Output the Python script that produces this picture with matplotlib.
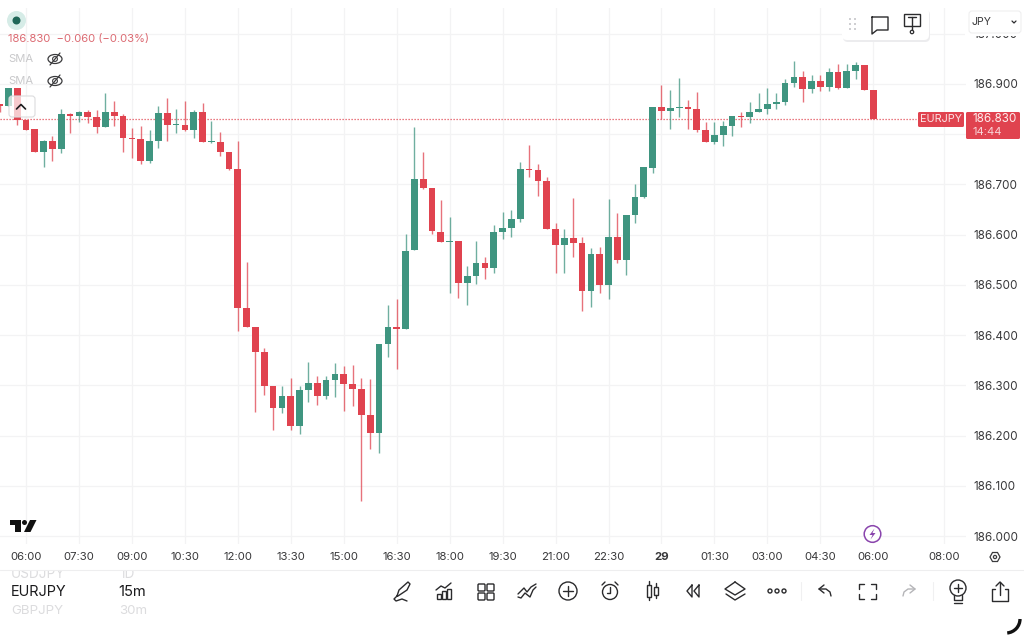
#!/usr/bin/env python3
"""EURJPY 15m candlestick screenshot, redrawn with matplotlib"""

import matplotlib
matplotlib.use('Agg')
import matplotlib.pyplot as plt
from matplotlib.patches import Circle, Ellipse, FancyBboxPatch, Polygon, Rectangle, Arc

plt.rcParams['font.family'] = ['Inter', 'DejaVu Sans']

# bar index, 0 is the 06:00 bar of the first day
bar_index = list(range(-3, 97))

opens = [186.860, 186.856, 186.892, 186.828, 186.810, 186.765, 186.786, 186.770, 186.840, 186.836,
         186.844, 186.834, 186.814, 186.844, 186.836, 186.792, 186.790, 186.747, 186.786, 186.842,
         186.818, 186.818, 186.808, 186.844, 186.784, 186.784, 186.765, 186.731, 186.454, 186.416,
         186.367, 186.299, 186.255, 186.279, 186.219, 186.291, 186.305, 186.279, 186.311, 186.323,
         186.303, 186.293, 186.241, 186.205, 186.383, 186.416, 186.412, 186.570, 186.711, 186.693,
         186.605, 186.585, 186.587, 186.504, 186.518, 186.544, 186.534, 186.605, 186.613, 186.631,
         186.731, 186.729, 186.707, 186.611, 186.579, 186.593, 186.583, 186.488, 186.561, 186.500,
         186.595, 186.550, 186.639, 186.675, 186.733, 186.854, 186.846, 186.852, 186.854, 186.850,
         186.808, 186.784, 186.798, 186.816, 186.836, 186.834, 186.844, 186.850, 186.860, 186.864,
         186.902, 186.914, 186.890, 186.906, 186.894, 186.924, 186.892, 186.926, 186.938, 186.888]
highs = [186.860, 186.892, 186.892, 186.828, 186.810, 186.789, 186.796, 186.851, 186.843, 186.846,
         186.849, 186.848, 186.881, 186.866, 186.840, 186.812, 186.817, 186.808, 186.855, 186.872,
         186.850, 186.866, 186.848, 186.862, 186.826, 186.804, 186.765, 186.786, 186.546, 186.416,
         186.375, 186.299, 186.299, 186.315, 186.299, 186.347, 186.319, 186.319, 186.345, 186.339,
         186.341, 186.315, 186.313, 186.383, 186.460, 186.472, 186.601, 186.814, 186.765, 186.693,
         186.669, 186.635, 186.587, 186.538, 186.587, 186.556, 186.619, 186.645, 186.649, 186.745,
         186.778, 186.741, 186.715, 186.623, 186.611, 186.673, 186.595, 186.573, 186.575, 186.671,
         186.643, 186.639, 186.701, 186.735, 186.854, 186.898, 186.888, 186.912, 186.868, 186.884,
         186.824, 186.824, 186.826, 186.836, 186.844, 186.864, 186.882, 186.892, 186.882, 186.910,
         186.946, 186.926, 186.918, 186.918, 186.932, 186.940, 186.940, 186.944, 186.938, 186.888]
lows = [186.844, 186.856, 186.818, 186.808, 186.765, 186.735, 186.747, 186.763, 186.802, 186.824,
        186.822, 186.802, 186.814, 186.816, 186.765, 186.753, 186.741, 186.743, 186.772, 186.786,
        186.802, 186.806, 186.792, 186.784, 186.782, 186.757, 186.729, 186.408, 186.416, 186.247,
        186.281, 186.211, 186.245, 186.211, 186.203, 186.267, 186.261, 186.273, 186.277, 186.249,
        186.259, 186.070, 186.173, 186.165, 186.357, 186.333, 186.412, 186.570, 186.691, 186.601,
        186.585, 186.484, 186.474, 186.460, 186.502, 186.512, 186.524, 186.591, 186.595, 186.625,
        186.715, 186.677, 186.611, 186.524, 186.524, 186.556, 186.448, 186.456, 186.484, 186.472,
        186.544, 186.520, 186.623, 186.673, 186.723, 186.830, 186.810, 186.834, 186.810, 186.804,
        186.784, 186.780, 186.776, 186.796, 186.814, 186.822, 186.844, 186.840, 186.850, 186.858,
        186.894, 186.864, 186.882, 186.886, 186.886, 186.890, 186.892, 186.910, 186.888, 186.830]
closes = [186.856, 186.892, 186.828, 186.808, 186.765, 186.786, 186.770, 186.840, 186.836, 186.844,
          186.834, 186.814, 186.844, 186.836, 186.792, 186.790, 186.747, 186.786, 186.842, 186.818,
          186.820, 186.808, 186.844, 186.784, 186.786, 186.765, 186.731, 186.454, 186.416, 186.367,
          186.299, 186.255, 186.279, 186.219, 186.291, 186.305, 186.279, 186.311, 186.323, 186.303,
          186.293, 186.241, 186.205, 186.383, 186.416, 186.412, 186.568, 186.711, 186.693, 186.607,
          186.585, 186.587, 186.504, 186.518, 186.544, 186.534, 186.605, 186.613, 186.631, 186.731,
          186.729, 186.707, 186.611, 186.579, 186.593, 186.583, 186.488, 186.561, 186.500, 186.595,
          186.550, 186.639, 186.675, 186.735, 186.854, 186.846, 186.852, 186.854, 186.850, 186.808,
          186.784, 186.798, 186.816, 186.836, 186.834, 186.844, 186.850, 186.860, 186.864, 186.902,
          186.914, 186.890, 186.906, 186.894, 186.924, 186.892, 186.926, 186.938, 186.888, 186.830]

time_ticks = [0, 6, 12, 18, 24, 30, 36, 42, 48, 54, 60, 66, 72, 78, 84, 90, 96, 104]
time_labels = ['06:00', '07:30', '09:00', '10:30', '12:00', '13:30', '15:00', '16:30', '18:00',
               '19:30', '21:00', '22:30', '29', '01:30', '03:00', '04:30', '06:00', '08:00']
price_ticks = [186.0, 186.1, 186.2, 186.3, 186.4, 186.5, 186.6, 186.7, 186.8, 186.9, 187.0]
# 186.800 sits behind the last price tag in the app, so it gets no label
price_labels = ['186.000', '186.100', '186.200', '186.300', '186.400', '186.500', '186.600',
                '186.700', '', '186.900', '187.000']
last_price = 186.830

GREEN = '#3f9580'
RED = '#e0434f'
GRID = '#f3f3f4'
INK = '#38383a'
W, H = 1024, 636


def draw_chart(fig):
    # axes fills the chart pane, px box x 0-966, y 8-544
    ax = fig.add_axes([0, (H - 544) / H, 966 / W, 536 / H])
    ax.set_xlim(-2.946, 106.5)
    ax.set_ylim(185.9844, 187.051)
    for s in ax.spines.values():
        s.set_visible(False)
    ax.set_axisbelow(True)
    ax.grid(True, color=GRID, lw=0.9)

    ax.set_xticks(time_ticks)
    ax.set_xticklabels(time_labels, fontsize=8.2, color=INK)
    ax.get_xticklabels()[12].set_fontweight('bold')
    ax.yaxis.tick_right()
    ax.set_yticks(price_ticks)
    ax.set_yticklabels(price_labels, fontsize=8.4, color=INK)
    ax.tick_params(axis='x', length=0, pad=6.1)
    ax.tick_params(axis='y', length=0, pad=5)

    colors = [GREEN if c >= o else RED for o, c in zip(opens, closes)]
    ax.vlines(bar_index, lows, highs, colors=colors, lw=1.0, alpha=0.75, zorder=2)
    bottoms = [min(o, c) for o, c in zip(opens, closes)]
    heights = [abs(o - c) for o, c in zip(opens, closes)]
    ax.bar(bar_index, heights, bottom=bottoms, width=0.76, color=colors, lw=0, zorder=3)

    ax.plot([-2.946, 100.8], [last_price, last_price], color='#e2505b', lw=0.9, ls=(0, (1, 1.4)),
            zorder=1)
    return ax


def line(ov, xs, ys, color='#2b2b2d', lw=1.0, **kw):
    ov.plot(xs, ys, color=color, lw=lw, solid_capstyle='round', solid_joinstyle='round', **kw)


def rbox(ov, x, y, w, h, fc='white', ec='none', lw=0.8, r=3, **kw):
    ov.add_patch(FancyBboxPatch((x + r, y + r), w - 2 * r, h - 2 * r,
                                boxstyle='round,pad=%s' % r, fc=fc, ec=ec, lw=lw, **kw))


def eye(ov, cx, cy):
    ov.add_patch(Ellipse((cx, cy), 14, 9, fc='none', ec='#3a3a3c', lw=0.9))
    ov.add_patch(Circle((cx, cy), 2.4, fc='none', ec='#3a3a3c', lw=0.8))
    line(ov, [cx - 5, cx + 5], [cy + 6, cy - 6], color='#3a3a3c', lw=0.9)


def draw_header(ov):
    ov.add_patch(Circle((16.5, 20.5), 9.5, fc='#d6ece7', ec='none'))
    ov.add_patch(Circle((16.5, 20.5), 4, fc='#1f6657', ec='none'))
    ov.text(8, 39, '186.830  \u22120.060 (\u22120.03%)', fontsize=8.1, color='#dc6a72', va='center')
    ov.text(8, 59, 'SMA', fontsize=8.1, color='#c9c9cb', va='center')
    ov.text(8, 81, 'SMA', fontsize=8.1, color='#c9c9cb', va='center')
    eye(ov, 55, 59)
    eye(ov, 55, 81)
    # collapse button sits over the first candles
    rbox(ov, 9, 96, 26, 21, fc=(1, 1, 1, 0.72), ec='#dcdcde')
    line(ov, [16.5, 21, 25.5], [109, 104.5, 109], color='#1c1c1e', lw=1.2)


def draw_float_toolbar(ov):
    rbox(ov, 843, 10, 87, 32, fc='#ececee', r=5)
    rbox(ov, 842, 8, 87, 32, fc='white', r=5)
    for x in (850, 855):
        for y in (19, 24, 29):
            ov.add_patch(Rectangle((x - 1, y - 1), 2, 2, fc='#cfcfd2', ec='none'))
    line(ov, [872, 888, 888, 877, 872, 872], [17, 17, 30, 30, 34, 17], lw=1.0)
    ov.add_patch(Rectangle((904, 14), 16, 12, fc='none', ec='#2b2b2d', lw=1.0))
    line(ov, [908, 916], [17, 17], lw=1.0)
    line(ov, [912, 912], [17, 30], lw=1.0)
    ov.add_patch(Circle((912, 32), 1.7, fc='white', ec='#2b2b2d', lw=0.9))
    # currency selector, also hides most of the 187.000 label
    ov.add_patch(Rectangle((965, 0), 59, 35.5, fc='white', ec='none'))
    rbox(ov, 969, 11, 52, 22, fc='white', ec='#efeff0', r=3)
    ov.text(972, 22, 'JPY', fontsize=7.6, color=INK, va='center')
    line(ov, [1012, 1014, 1016], [21, 23, 21], lw=0.9)


def draw_price_label(ov):
    rbox(ov, 918, 112, 46, 15, fc=RED, r=1.5)
    rbox(ov, 966, 112, 54, 27, fc=RED, r=1.5)
    ov.text(941, 119.5, 'EURJPY', fontsize=7.8, color='#fbe3e5', ha='center', va='center')
    ov.text(995, 119.5, '186.830', fontsize=8.4, color='#fdeeee', ha='center', va='center')
    ov.text(987.5, 132, '14:44', fontsize=8, color='#f8d5d8', ha='center', va='center')


def draw_bottom_left(ov):
    ov.add_patch(Polygon([(10, 520), (21, 520), (21, 532), (15, 532), (15, 525), (10, 525)],
                         fc='#111111', ec='none'))
    ov.add_patch(Circle((24.5, 522.5), 2.5, fc='#111111', ec='none'))
    ov.add_patch(Polygon([(30, 520), (36.5, 520), (30.5, 532), (24, 532)], fc='#111111', ec='none'))
    ov.text(11, 574, 'USDJPY', fontsize=9.8, color='#dcdcde', va='center', zorder=1)
    ov.text(119, 574, '1D', fontsize=9.8, color='#dcdcde', va='center', zorder=1)
    ov.add_patch(Rectangle((0, 563), 400, 6.5, fc='white', ec='none', zorder=1.5))
    line(ov, [0, 1024], [570, 570], color='#eeeeef', lw=0.8, zorder=1.6)
    ov.text(11, 592, 'EURJPY', fontsize=10.4, color='#1a1a1c', va='center')
    ov.text(118, 592, '15m', fontsize=10.6, color='#1a1a1c', va='center')
    ov.text(11, 610.5, 'GBPJPY', fontsize=9.6, color='#dcdcde', va='center')
    ov.text(119, 610.5, '30m', fontsize=9.6, color='#dcdcde', va='center')


def draw_icons(ov):
    lw = 1.0
    # pen
    line(ov, [397, 399, 408, 410, 407, 398, 397], [596, 590, 582, 584, 590, 596, 596], lw=lw)
    line(ov, [397, 394, 396, 402, 407], [596, 599, 601, 599, 601], lw=lw)
    # chart with bars
    for x, y0 in ((437, 594), (442, 591), (447, 589)):
        ov.add_patch(Rectangle((x, y0), 4, 599 - y0, fc='none', ec='#2b2b2d', lw=lw))
    line(ov, [436, 441, 445, 451], [590, 586, 588, 583], lw=lw)
    # four squares
    for x in (478, 487):
        for y in (584, 593):
            ov.add_patch(FancyBboxPatch((x + 1, y + 1), 5, 5, boxstyle='round,pad=1',
                                        fc='none', ec='#2b2b2d', lw=lw))
    # drawing tool
    line(ov, [518, 524, 527, 531, 536], [594, 588, 592, 587, 584], lw=lw)
    line(ov, [518, 521, 525, 530, 533, 536], [597, 598, 593, 597, 590, 587], lw=lw)
    # plus in circle
    ov.add_patch(Circle((568, 591), 9, fc='none', ec='#2b2b2d', lw=lw))
    line(ov, [563, 573], [591, 591], lw=lw)
    line(ov, [568, 568], [586, 596], lw=lw)
    # alarm
    ov.add_patch(Circle((610, 592), 7.5, fc='none', ec='#2b2b2d', lw=lw))
    line(ov, [610, 610, 607], [587, 593, 593], lw=lw)
    line(ov, [602, 605], [585, 582], lw=lw)
    line(ov, [615, 618], [582, 585], lw=lw)
    # candles, wicks stop at the bodies
    ov.add_patch(Rectangle((647, 585), 4, 12, fc='none', ec='#2b2b2d', lw=lw))
    ov.add_patch(Rectangle((654, 587), 4, 8, fc='none', ec='#2b2b2d', lw=lw))
    line(ov, [649, 649], [581, 585], lw=lw)
    line(ov, [649, 649], [597, 600], lw=lw)
    line(ov, [656, 656], [583, 587], lw=lw)
    line(ov, [656, 656], [595, 598], lw=lw)
    # rewind
    line(ov, [692, 687, 692, 692], [585, 591, 597, 585], lw=lw)
    line(ov, [699, 694, 699, 699], [585, 591, 597, 585], lw=lw)
    # layers
    line(ov, [735, 745, 735, 725, 735], [582, 589, 595, 589, 582], lw=lw)
    line(ov, [726, 735, 745], [594, 600, 594], lw=lw)
    # three dots
    for x in (770, 777, 784):
        ov.add_patch(Circle((x, 591), 2, fc='none', ec='#2b2b2d', lw=lw))
    line(ov, [801, 801], [582, 600], color='#f0f0f1', lw=0.8)
    # undo
    line(ov, [824, 819, 824], [585, 589, 593], lw=lw)
    line(ov, [819, 826, 830, 831], [589, 589, 592, 596], lw=lw)
    # fullscreen corners
    line(ov, [859, 859, 864], [589, 584, 584], lw=lw)
    line(ov, [871, 876, 876], [584, 584, 589], lw=lw)
    line(ov, [859, 859, 864], [594, 599, 599], lw=lw)
    line(ov, [871, 876, 876], [599, 599, 594], lw=lw)
    # redo, greyed out
    line(ov, [910, 915, 910], [585, 589, 593], color='#b5b5b8', lw=lw)
    line(ov, [915, 908, 904, 903], [589, 589, 592, 596], color='#b5b5b8', lw=lw)
    line(ov, [933, 933], [582, 600], color='#f0f0f1', lw=0.8)
    # bulb with plus
    ov.add_patch(Circle((958, 588), 8, fc='none', ec='#2b2b2d', lw=lw))
    line(ov, [954, 962], [588, 588], lw=lw)
    line(ov, [958, 958], [584, 592], lw=lw)
    line(ov, [954, 954, 962, 962], [595, 600, 600, 595], lw=lw)
    line(ov, [954, 962], [602.5, 602.5], lw=lw)
    # share
    line(ov, [995, 992, 992, 1008, 1008, 1005], [589, 589, 601, 601, 589, 589], lw=lw)
    line(ov, [1000, 1000], [582, 595], lw=lw)
    line(ov, [996, 1000, 1004], [586, 582, 586], lw=lw)
    # settings hexagon on the time axis
    ov.add_patch(Polygon([(990, 557), (992.5, 552.5), (997.5, 552.5), (1000, 557),
                          (997.5, 561.5), (992.5, 561.5)], fc='none', ec='#3a3a3c', lw=0.9))
    ov.add_patch(Circle((995, 557), 1.6, fc='none', ec='#3a3a3c', lw=0.9))
    # purple lightning marker
    ov.add_patch(Circle((872.5, 534), 8.3, fc='white', ec='#8a45ad', lw=1.1))
    ov.add_patch(Polygon([(874.5, 528.5), (869.5, 535), (872.5, 535), (870.5, 539.5),
                          (875.5, 533), (872.5, 533)], fc='#8a45ad', ec='none'))
    # corner of the screen
    ov.add_patch(Arc((1006, 619), 28, 28, theta1=0, theta2=85, color='#111111', lw=2.4))


def create_chart():
    fig = plt.figure(figsize=(W / 100, H / 100), dpi=100, facecolor='white')
    draw_chart(fig)

    # overlay in screen pixels for the app chrome
    ov = fig.add_axes([0, 0, 1, 1], facecolor='none')
    ov.set_xlim(0, W)
    ov.set_ylim(H, 0)
    ov.axis('off')

    draw_header(ov)
    draw_float_toolbar(ov)
    draw_price_label(ov)
    draw_bottom_left(ov)
    draw_icons(ov)

    fig.savefig('out.png', dpi=100, facecolor='white')


if __name__ == '__main__':
    create_chart()
